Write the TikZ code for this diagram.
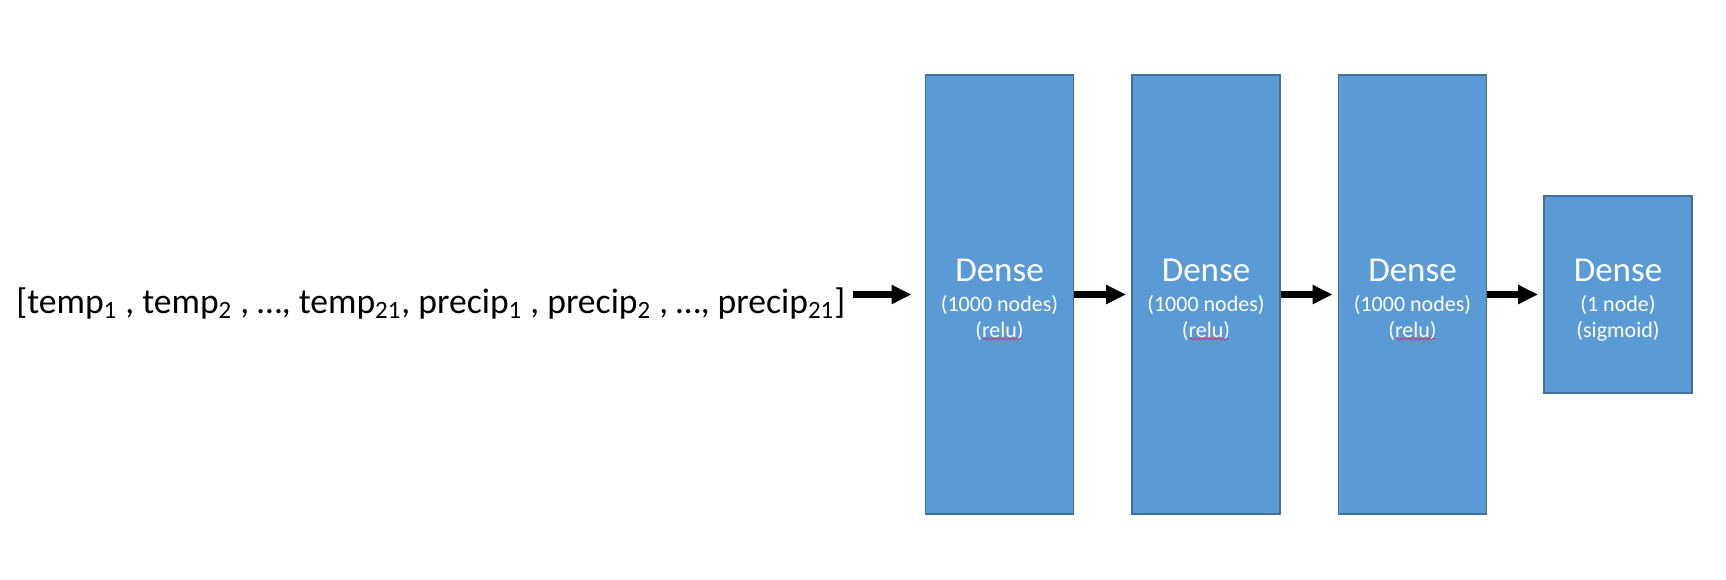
\documentclass[tikz,border=0pt]{standalone}
\usepackage{fontspec}
\setmainfont{Carlito}
\usetikzlibrary{arrows.meta,decorations.pathmorphing}

\definecolor{layerFill}{RGB}{91,155,213}
\definecolor{layerLine}{RGB}{65,113,156}
\definecolor{spellRed}{RGB}{205,60,120}

\begin{document}
\begin{tikzpicture}[x = 0.5pt, y = -0.5pt]
\tikzstyle{LayerStyle} = [draw = layerLine, fill = layerFill, line width = 0.85pt, minimum width = 74pt, inner sep = 0pt]
\tikzstyle{BigLayer} = [LayerStyle, minimum height = 219.5pt]
\tikzstyle{SmallLayer} = [LayerStyle, minimum height = 98.5pt]
\tikzstyle{TitleStyle} = [anchor = base, inner sep = 0pt, text = white, font = \fontsize{17.5}{20}\selectfont]
\tikzstyle{InfoStyle} = [anchor = base, inner sep = 0pt, text = white, font = \fontsize{11}{13}\selectfont]
\tikzstyle{EdgeStyle} = [line width = 3.25pt, -{Triangle[length = 10pt, width = 9pt]}]
\useasboundingbox (0,0) rectangle (1726,579);
% input vector
\node[anchor = base west, inner sep = 0pt, font = \fontsize{17.8}{21}\selectfont] (input) at (16,313)
  {[temp\textsubscript{1} , temp\textsubscript{2} , …, temp\textsubscript{21}, precip\textsubscript{1} , precip\textsubscript{2} , …, precip\textsubscript{21}]};
% layers
\node[BigLayer] (d1) at (999.5,294.5) {};
\node[BigLayer] (d2) at (1206,294.5) {};
\node[BigLayer] (d3) at (1412.5,294.5) {};
\node[SmallLayer] (d4) at (1618,294.5) {};
% layer texts
\node[TitleStyle] (t1) at (999.5,281) {Dense};
\node[InfoStyle] (n1) at (999.5,311) {(1000 nodes)};
\node[InfoStyle] (a1) at (999.5,337) {(relu)};
\node[TitleStyle] (t2) at (1206,281) {Dense};
\node[InfoStyle] (n2) at (1206,311) {(1000 nodes)};
\node[InfoStyle] (a2) at (1206,337) {(relu)};
\node[TitleStyle] (t3) at (1412.5,281) {Dense};
\node[InfoStyle] (n3) at (1412.5,311) {(1000 nodes)};
\node[InfoStyle] (a3) at (1412.5,337) {(relu)};
\node[TitleStyle] (t4) at (1618,281) {Dense};
\node[InfoStyle] (n4) at (1618,311) {(1 node)};
\node[InfoStyle] (a4) at (1618,337) {(sigmoid)};
% spell check marks
\draw[spellRed, line width = 0.5pt, decorate, decoration = {snake, amplitude = 0.45pt, segment length = 2pt}] (983,339) -- (1022,339);
\draw[spellRed, line width = 0.5pt, decorate, decoration = {snake, amplitude = 0.45pt, segment length = 2pt}] (1189.5,339) -- (1228.5,339);
\draw[spellRed, line width = 0.5pt, decorate, decoration = {snake, amplitude = 0.45pt, segment length = 2pt}] (1396,339) -- (1435,339);
% connections
\draw[EdgeStyle, shorten < = 3.5pt, shorten > = 6.5pt] (input.east |- d1.west) -- (d1.west);
\draw[EdgeStyle, shorten > = 2.5pt] (d1.east) -- (d2.west);
\draw[EdgeStyle, shorten > = 2.5pt] (d2.east) -- (d3.west);
\draw[EdgeStyle, shorten > = 2.5pt] (d3.east) -- (d4.west);
\end{tikzpicture}
\end{document}
